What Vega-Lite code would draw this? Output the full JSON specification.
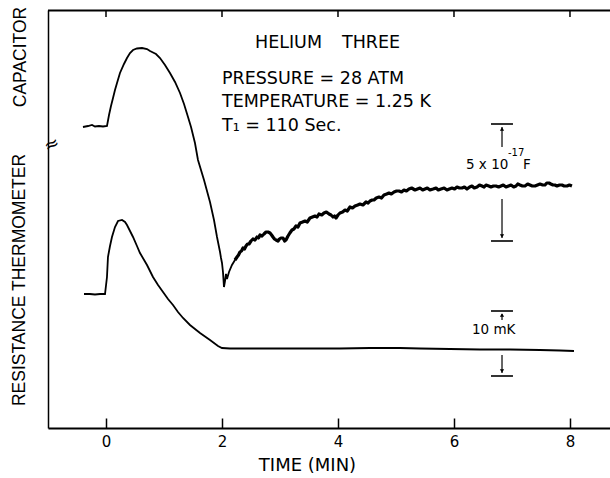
{
  "$schema": "https://vega.github.io/schema/vega-lite/v6.json",
  "width": 562,
  "height": 418,
  "autosize": {"type": "none"},
  "padding": {"left": 48, "top": 10, "right": 0, "bottom": 50},
  "background": "white",
  "config": {"view": {"stroke": null}, "axis": {"grid": false}},
  "datasets": {
    "traces": [
      {"s":"therm","t":-0.379,"v":134},{"s":"therm","t":-0.276,"v":134},{"s":"therm","t":-0.19,"v":133.5},{"s":"therm","t":-0.103,"v":134},{"s":"therm","t":-0.017,"v":134},
      {"s":"therm","t":0.017,"v":151},{"s":"therm","t":0.034,"v":171},{"s":"therm","t":0.069,"v":182},{"s":"therm","t":0.103,"v":191},{"s":"therm","t":0.155,"v":201},
      {"s":"therm","t":0.207,"v":207},{"s":"therm","t":0.276,"v":208},{"s":"therm","t":0.328,"v":206},{"s":"therm","t":0.362,"v":203},{"s":"therm","t":0.414,"v":197},
      {"s":"therm","t":0.466,"v":191},{"s":"therm","t":0.534,"v":182},{"s":"therm","t":0.586,"v":175},{"s":"therm","t":0.707,"v":163},{"s":"therm","t":0.81,"v":151},
      {"s":"therm","t":0.897,"v":143},{"s":"therm","t":0.983,"v":136},{"s":"therm","t":1.069,"v":129},{"s":"therm","t":1.155,"v":123},{"s":"therm","t":1.241,"v":116},
      {"s":"therm","t":1.328,"v":110},{"s":"therm","t":1.448,"v":103},{"s":"therm","t":1.621,"v":95},{"s":"therm","t":1.793,"v":88},{"s":"therm","t":1.931,"v":82},
      {"s":"therm","t":2.0,"v":80},{"s":"therm","t":2.138,"v":79.5},{"s":"therm","t":2.655,"v":79.5},{"s":"therm","t":3.345,"v":79.5},{"s":"therm","t":4.034,"v":79.5},
      {"s":"therm","t":4.552,"v":80},{"s":"therm","t":5.069,"v":80},{"s":"therm","t":5.414,"v":79.5},{"s":"therm","t":5.931,"v":79},{"s":"therm","t":6.448,"v":78.5},
      {"s":"therm","t":6.966,"v":78.5},{"s":"therm","t":7.483,"v":78},{"s":"therm","t":7.828,"v":77.5},{"s":"therm","t":8.069,"v":77},
      {"s":"cap","t":-0.397,"v":301},{"s":"cap","t":-0.31,"v":302},{"s":"cap","t":-0.241,"v":303},{"s":"cap","t":-0.19,"v":301.5},{"s":"cap","t":-0.121,"v":302},
      {"s":"cap","t":-0.052,"v":301.5},{"s":"cap","t":0.017,"v":302},{"s":"cap","t":0.052,"v":313},{"s":"cap","t":0.086,"v":322},{"s":"cap","t":0.121,"v":330},
      {"s":"cap","t":0.155,"v":338},{"s":"cap","t":0.19,"v":345},{"s":"cap","t":0.241,"v":355},{"s":"cap","t":0.31,"v":364},{"s":"cap","t":0.362,"v":370},
      {"s":"cap","t":0.414,"v":375},{"s":"cap","t":0.466,"v":378},{"s":"cap","t":0.534,"v":379.5},{"s":"cap","t":0.621,"v":380},{"s":"cap","t":0.707,"v":379},
      {"s":"cap","t":0.759,"v":377},{"s":"cap","t":0.793,"v":376},{"s":"cap","t":0.862,"v":374},{"s":"cap","t":0.931,"v":370},{"s":"cap","t":1.017,"v":363},
      {"s":"cap","t":1.103,"v":355},{"s":"cap","t":1.19,"v":346},{"s":"cap","t":1.276,"v":335},{"s":"cap","t":1.345,"v":324},{"s":"cap","t":1.414,"v":311},
      {"s":"cap","t":1.466,"v":301},{"s":"cap","t":1.534,"v":285},{"s":"cap","t":1.586,"v":268},{"s":"cap","t":1.69,"v":248},{"s":"cap","t":1.793,"v":226},
      {"s":"cap","t":1.862,"v":208},{"s":"cap","t":1.914,"v":191},{"s":"cap","t":1.966,"v":176},{"s":"cap","t":1.983,"v":170},{"s":"cap","t":2.0,"v":165},
      {"s":"cap","t":2.017,"v":156},{"s":"cap","t":2.034,"v":141},{"s":"cap","t":2.052,"v":147},{"s":"cap","t":2.069,"v":154},{"s":"cap","t":2.086,"v":149},
      {"s":"cap","t":2.121,"v":156},{"s":"cap","t":2.172,"v":163},{"s":"cap","t":2.224,"v":168},{"s":"cap","t":2.259,"v":171},{"s":"cap","t":2.285,"v":173},
      {"s":"cap","t":2.31,"v":176},{"s":"cap","t":2.336,"v":177},{"s":"cap","t":2.362,"v":180},{"s":"cap","t":2.388,"v":179},{"s":"cap","t":2.414,"v":182},
      {"s":"cap","t":2.44,"v":184},{"s":"cap","t":2.466,"v":184},{"s":"cap","t":2.5,"v":187},{"s":"cap","t":2.534,"v":189},{"s":"cap","t":2.57,"v":188},
      {"s":"cap","t":2.603,"v":191},{"s":"cap","t":2.63,"v":190},{"s":"cap","t":2.655,"v":193},{"s":"cap","t":2.69,"v":192},{"s":"cap","t":2.724,"v":194},
      {"s":"cap","t":2.76,"v":196},{"s":"cap","t":2.793,"v":196},{"s":"cap","t":2.828,"v":195},{"s":"cap","t":2.855,"v":193},{"s":"cap","t":2.879,"v":191},
      {"s":"cap","t":2.905,"v":189},{"s":"cap","t":2.931,"v":188},{"s":"cap","t":2.966,"v":187},{"s":"cap","t":2.99,"v":189},{"s":"cap","t":3.017,"v":190},
      {"s":"cap","t":3.052,"v":190},{"s":"cap","t":3.08,"v":187},{"s":"cap","t":3.103,"v":188},{"s":"cap","t":3.138,"v":192},{"s":"cap","t":3.17,"v":195},
      {"s":"cap","t":3.207,"v":198},{"s":"cap","t":3.24,"v":199},{"s":"cap","t":3.276,"v":202},{"s":"cap","t":3.31,"v":201},{"s":"cap","t":3.345,"v":205},
      {"s":"cap","t":3.39,"v":206},{"s":"cap","t":3.431,"v":207},{"s":"cap","t":3.47,"v":206},{"s":"cap","t":3.517,"v":210},{"s":"cap","t":3.56,"v":211},
      {"s":"cap","t":3.603,"v":212},{"s":"cap","t":3.64,"v":211},{"s":"cap","t":3.672,"v":214},{"s":"cap","t":3.72,"v":213},{"s":"cap","t":3.759,"v":215},
      {"s":"cap","t":3.8,"v":216},{"s":"cap","t":3.845,"v":214},{"s":"cap","t":3.88,"v":213},{"s":"cap","t":3.914,"v":211},{"s":"cap","t":3.94,"v":212},
      {"s":"cap","t":3.966,"v":210},{"s":"cap","t":4.0,"v":213},{"s":"cap","t":4.034,"v":215},{"s":"cap","t":4.08,"v":216},{"s":"cap","t":4.121,"v":218},
      {"s":"cap","t":4.16,"v":217},{"s":"cap","t":4.207,"v":221},{"s":"cap","t":4.25,"v":220},{"s":"cap","t":4.293,"v":222},{"s":"cap","t":4.34,"v":223},
      {"s":"cap","t":4.379,"v":224},{"s":"cap","t":4.43,"v":223},{"s":"cap","t":4.483,"v":226},{"s":"cap","t":4.52,"v":225},{"s":"cap","t":4.552,"v":227},
      {"s":"cap","t":4.59,"v":228},{"s":"cap","t":4.621,"v":228},{"s":"cap","t":4.66,"v":230},{"s":"cap","t":4.707,"v":231},{"s":"cap","t":4.75,"v":230},
      {"s":"cap","t":4.793,"v":233},{"s":"cap","t":4.84,"v":234},{"s":"cap","t":4.879,"v":235},{"s":"cap","t":4.92,"v":234},{"s":"cap","t":4.966,"v":236},
      {"s":"cap","t":5.01,"v":237},{"s":"cap","t":5.052,"v":237},{"s":"cap","t":5.095,"v":236},{"s":"cap","t":5.138,"v":238},{"s":"cap","t":5.18,"v":237},
      {"s":"cap","t":5.224,"v":239},{"s":"cap","t":5.27,"v":240},{"s":"cap","t":5.328,"v":238},{"s":"cap","t":5.37,"v":239},{"s":"cap","t":5.414,"v":240},
      {"s":"cap","t":5.46,"v":238},{"s":"cap","t":5.5,"v":239},{"s":"cap","t":5.54,"v":240},{"s":"cap","t":5.586,"v":238},{"s":"cap","t":5.64,"v":239},
      {"s":"cap","t":5.69,"v":240},{"s":"cap","t":5.73,"v":238},{"s":"cap","t":5.776,"v":239},{"s":"cap","t":5.83,"v":240},{"s":"cap","t":5.879,"v":238},
      {"s":"cap","t":5.92,"v":239},{"s":"cap","t":5.966,"v":240},{"s":"cap","t":6.01,"v":239},{"s":"cap","t":6.052,"v":241},{"s":"cap","t":6.095,"v":240},
      {"s":"cap","t":6.138,"v":240},{"s":"cap","t":6.18,"v":241},{"s":"cap","t":6.224,"v":239},{"s":"cap","t":6.27,"v":241},{"s":"cap","t":6.31,"v":242},
      {"s":"cap","t":6.35,"v":240},{"s":"cap","t":6.397,"v":241},{"s":"cap","t":6.44,"v":243},{"s":"cap","t":6.483,"v":242},{"s":"cap","t":6.52,"v":241},
      {"s":"cap","t":6.552,"v":243},{"s":"cap","t":6.6,"v":242},{"s":"cap","t":6.638,"v":241},{"s":"cap","t":6.68,"v":242},{"s":"cap","t":6.724,"v":242},
      {"s":"cap","t":6.77,"v":241},{"s":"cap","t":6.81,"v":242},{"s":"cap","t":6.85,"v":243},{"s":"cap","t":6.897,"v":241},{"s":"cap","t":6.94,"v":242},
      {"s":"cap","t":6.983,"v":243},{"s":"cap","t":7.03,"v":241},{"s":"cap","t":7.069,"v":242},{"s":"cap","t":7.1,"v":244},{"s":"cap","t":7.138,"v":243},
      {"s":"cap","t":7.18,"v":242},{"s":"cap","t":7.224,"v":242},{"s":"cap","t":7.27,"v":244},{"s":"cap","t":7.31,"v":243},{"s":"cap","t":7.35,"v":242},
      {"s":"cap","t":7.397,"v":242},{"s":"cap","t":7.44,"v":243},{"s":"cap","t":7.483,"v":244},{"s":"cap","t":7.53,"v":243},{"s":"cap","t":7.569,"v":243},
      {"s":"cap","t":7.6,"v":245},{"s":"cap","t":7.638,"v":245},{"s":"cap","t":7.67,"v":244},{"s":"cap","t":7.707,"v":243},{"s":"cap","t":7.74,"v":243},
      {"s":"cap","t":7.776,"v":242},{"s":"cap","t":7.82,"v":243},{"s":"cap","t":7.862,"v":243},{"s":"cap","t":7.9,"v":242},{"s":"cap","t":7.948,"v":242},
      {"s":"cap","t":7.99,"v":243},{"s":"cap","t":8.034,"v":242}
    ],
    "frame": [
      {"t1": -1, "t2": 8.69, "v": 417.6}
    ],
    "topticks": [
      {"t": 0, "v1": 418, "v2": 411},
      {"t": 2, "v1": 418, "v2": 411},
      {"t": 4, "v1": 418, "v2": 411},
      {"t": 6, "v1": 418, "v2": 411},
      {"t": 8, "v1": 418, "v2": 411}
    ],
    "bars": [
      {"t1": 6.638, "t2": 7.017, "v": 304},
      {"t1": 6.638, "t2": 7.017, "v": 187},
      {"t1": 6.638, "t2": 7.017, "v": 117},
      {"t1": 6.638, "t2": 7.017, "v": 52}
    ],
    "shafts": [
      {"t": 6.828, "v1": 281, "v2": 301},
      {"t": 6.828, "v1": 229, "v2": 190},
      {"t": 6.828, "v1": 108, "v2": 114},
      {"t": 6.828, "v1": 73, "v2": 55}
    ],
    "heads": [
      {"t": 6.828, "v": 299, "dir": "up"},
      {"t": 6.828, "v": 192, "dir": "down"},
      {"t": 6.828, "v": 113, "dir": "up"},
      {"t": 6.828, "v": 57, "dir": "down"}
    ],
    "block": [
      {"t": 2.569, "v": 385, "text": "HELIUM"},
      {"t": 4.069, "v": 385, "text": "THREE"},
      {"t": 2.0, "v": 349, "text": "PRESSURE = 28 ATM"},
      {"t": 2.0, "v": 326, "text": "TEMPERATURE = 1.25 K"},
      {"t": 2.0, "v": 302, "text": "T₁ = 110 Sec."}
    ],
    "side": [
      {"t": -1.466, "v": 371, "text": "CAPACITOR"},
      {"t": -1.483, "v": 148, "text": "RESISTANCE THERMOMETER"}
    ],
    "scale": [
      {"t": 6.207, "v": 263, "text": "5 x 10"},
      {"t": 7.19, "v": 263, "text": "F"},
      {"t": 6.31, "v": 98, "text": "10 mK"}
    ],
    "sup": [
      {"t": 6.931, "v": 275, "text": "-17"}
    ],
    "brk": [
      {"t": -0.931, "v": 283, "text": "≈"}
    ]
  },
  "layer": [
    {
      "data": {"name": "frame"},
      "mark": {"type": "rule", "color": "black", "strokeWidth": 2},
      "encoding": {
        "x": {"field": "t1", "type": "quantitative", "scale": {"domain": [-1, 8.69], "nice": false, "zero": false},
          "axis": {"orient": "bottom", "values": [0, 2, 4, 6, 8], "format": "d", "tickSize": -10, "tickColor": "black", "tickWidth": 1.5,
            "domainColor": "black", "domainWidth": 1.8, "labelFont": "DejaVu Sans", "labelFontSize": 15, "labelColor": "black",
            "labelPadding": 16, "title": "TIME (MIN)", "titleFont": "DejaVu Sans", "titleFontSize": 18, "titleFontWeight": "normal",
            "titleColor": "black", "titlePadding": 7, "titleX": 259}},
        "x2": {"field": "t2"},
        "y": {"field": "v", "type": "quantitative", "scale": {"domain": [0, 418], "nice": false, "zero": false},
          "axis": {"domain": true, "ticks": false, "labels": false, "title": null, "domainColor": "black", "domainWidth": 1.5}}
      }
    },
    {
      "data": {"name": "topticks"},
      "mark": {"type": "rule", "color": "black", "strokeWidth": 1.5},
      "encoding": {
        "x": {"field": "t", "type": "quantitative"},
        "y": {"field": "v1", "type": "quantitative"},
        "y2": {"field": "v2"}
      }
    },
    {
      "data": {"name": "traces"},
      "transform": [{"filter": "datum.s == 'therm'"}],
      "mark": {"type": "line", "color": "black", "strokeWidth": 1.8},
      "encoding": {
        "x": {"field": "t", "type": "quantitative"},
        "y": {"field": "v", "type": "quantitative"}
      }
    },
    {
      "data": {"name": "traces"},
      "transform": [{"filter": "datum.s == 'cap' && datum.t <= 2.26"}],
      "mark": {"type": "line", "color": "black", "strokeWidth": 1.8},
      "encoding": {
        "x": {"field": "t", "type": "quantitative"},
        "y": {"field": "v", "type": "quantitative"}
      }
    },
    {
      "data": {"name": "traces"},
      "transform": [{"filter": "datum.s == 'cap' && datum.t >= 2.22"}],
      "mark": {"type": "line", "color": "black", "strokeWidth": 3.2, "strokeJoin": "round"},
      "encoding": {
        "x": {"field": "t", "type": "quantitative"},
        "y": {"field": "v", "type": "quantitative"}
      }
    },
    {
      "data": {"name": "bars"},
      "mark": {"type": "rule", "color": "black", "strokeWidth": 1.6},
      "encoding": {
        "x": {"field": "t1", "type": "quantitative"},
        "x2": {"field": "t2"},
        "y": {"field": "v", "type": "quantitative"}
      }
    },
    {
      "data": {"name": "shafts"},
      "mark": {"type": "rule", "color": "black", "strokeWidth": 1.2},
      "encoding": {
        "x": {"field": "t", "type": "quantitative"},
        "y": {"field": "v1", "type": "quantitative"},
        "y2": {"field": "v2"}
      }
    },
    {
      "data": {"name": "heads"},
      "transform": [{"filter": "datum.dir == 'up'"}],
      "mark": {"type": "point", "shape": "triangle-up", "filled": true, "color": "black", "size": 18, "opacity": 1},
      "encoding": {
        "x": {"field": "t", "type": "quantitative"},
        "y": {"field": "v", "type": "quantitative"}
      }
    },
    {
      "data": {"name": "heads"},
      "transform": [{"filter": "datum.dir == 'down'"}],
      "mark": {"type": "point", "shape": "triangle-down", "filled": true, "color": "black", "size": 18, "opacity": 1},
      "encoding": {
        "x": {"field": "t", "type": "quantitative"},
        "y": {"field": "v", "type": "quantitative"}
      }
    },
    {
      "data": {"name": "block"},
      "mark": {"type": "text", "font": "DejaVu Sans", "fontSize": 17.5, "align": "left", "baseline": "middle", "color": "black"},
      "encoding": {
        "x": {"field": "t", "type": "quantitative"},
        "y": {"field": "v", "type": "quantitative"},
        "text": {"field": "text"}
      }
    },
    {
      "data": {"name": "side"},
      "mark": {"type": "text", "font": "Liberation Sans", "fontSize": 17.5, "align": "center", "baseline": "middle", "angle": 270, "color": "black"},
      "encoding": {
        "x": {"field": "t", "type": "quantitative"},
        "y": {"field": "v", "type": "quantitative"},
        "text": {"field": "text"}
      }
    },
    {
      "data": {"name": "scale"},
      "mark": {"type": "text", "font": "DejaVu Sans", "fontSize": 13.5, "align": "left", "baseline": "middle", "color": "black"},
      "encoding": {
        "x": {"field": "t", "type": "quantitative"},
        "y": {"field": "v", "type": "quantitative"},
        "text": {"field": "text"}
      }
    },
    {
      "data": {"name": "sup"},
      "mark": {"type": "text", "font": "DejaVu Sans", "fontSize": 10, "align": "left", "baseline": "middle", "color": "black"},
      "encoding": {
        "x": {"field": "t", "type": "quantitative"},
        "y": {"field": "v", "type": "quantitative"},
        "text": {"field": "text"}
      }
    },
    {
      "data": {"name": "brk"},
      "mark": {"type": "text", "font": "DejaVu Sans", "fontSize": 18, "align": "center", "baseline": "middle", "angle": -25, "color": "black"},
      "encoding": {
        "x": {"field": "t", "type": "quantitative"},
        "y": {"field": "v", "type": "quantitative"},
        "text": {"field": "text"}
      }
    }
  ]
}
